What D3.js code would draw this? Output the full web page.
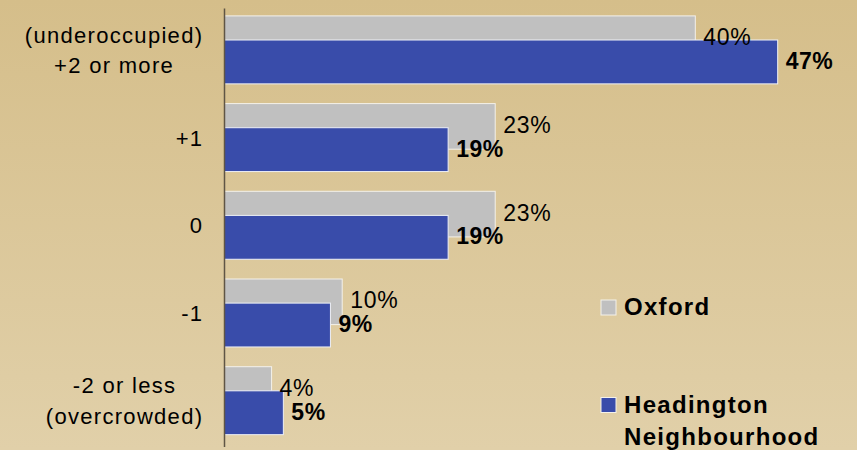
<!DOCTYPE html>
<html>
<head>
<meta charset="utf-8">
<script src="https://cdn.jsdelivr.net/npm/d3@7"></script>
<style>
  html, body { margin: 0; padding: 0; }
  body { width: 857px; height: 450px; overflow: hidden; }
  svg { display: block; font-family: "Liberation Sans", Arial, sans-serif; }
</style>
</head>
<body>
<svg id="chart" width="857" height="450"></svg>
<script>
// Occupancy rating categories (top to bottom)
const categories = ["(underoccupied)\n+2 or more", "+1", "0", "-1", "-2 or less\n(overcrowded)"];
// Share of households, percent
const oxford = [40, 23, 23, 10, 4];
const headington = [47, 19, 19, 9, 5];
const seriesNames = ["Oxford", "Headington\nNeighbourhood"];
const seriesColors = ["#c0c0c0", "#394caa"];

const W = 857, H = 450;
const svg = d3.select("#chart");

// Tan gradient backdrop
const defs = svg.append("defs");
const grad = defs.append("linearGradient").attr("id", "bg").attr("x1", 0).attr("y1", 0).attr("x2", 0).attr("y2", 1);
grad.append("stop").attr("offset", "0%").attr("stop-color", "#d5be8a");
grad.append("stop").attr("offset", "100%").attr("stop-color", "#e1d0a9");
svg.append("rect").attr("width", W).attr("height", H).attr("fill", "url(#bg)");

const x = d3.scaleLinear().domain([0, 50]).range([224.5, 813]);
const y = d3.scaleBand().domain(categories).range([8, 446.5]).padding(0);
const bw = y.bandwidth();

const rows = categories.map((c, i) => ({ cat: c, ox: oxford[i], hd: headington[i] }));

// Oxford bars (behind)
svg.append("g").selectAll("rect").data(rows).join("rect")
  .attr("x", x(0))
  .attr("y", d => y(d.cat) + bw * 0.09)
  .attr("width", d => x(d.ox) - x(0))
  .attr("height", bw * 0.52)
  .attr("fill", seriesColors[0])
  .attr("stroke", "#f4f1ea").attr("stroke-width", 1);

// Headington bars (overlapping in front)
svg.append("g").selectAll("rect").data(rows).join("rect")
  .attr("x", x(0))
  .attr("y", d => y(d.cat) + bw * 0.365)
  .attr("width", d => x(d.hd) - x(0))
  .attr("height", bw * 0.50)
  .attr("fill", seriesColors[1])
  .attr("stroke", "#eef0f6").attr("stroke-width", 1);

// Value labels
svg.append("g").selectAll("text").data(rows).join("text")
  .attr("x", d => x(d.ox) + 8)
  .attr("y", d => y(d.cat) + bw * 0.09 + bw * 0.26 + 6.5)
  .attr("font-size", 23).attr("letter-spacing", 0.7)
  .attr("fill", "#000")
  .text(d => d.ox + "%");

svg.append("g").selectAll("text").data(rows).join("text")
  .attr("x", d => x(d.hd) + 8)
  .attr("y", d => y(d.cat) + bw * 0.365 + bw * 0.25 + 7)
  .attr("font-size", 23).attr("font-weight", "bold").attr("letter-spacing", 0.5)
  .attr("fill", "#000")
  .text(d => d.hd + "%");

// Category axis
const pad = 22;
const axisG = svg.append("g")
  .attr("transform", `translate(${x(0) - 0.5},0)`)
  .call(d3.axisLeft(y).tickSize(0).tickSizeOuter(0).tickPadding(pad).tickFormat(() => ""));
axisG.select(".domain").attr("stroke", "#5f5545").attr("stroke-width", 1.5);

// Multi-line tick labels: block right-aligned, lines centred within it
const lineH = 30.5;
axisG.selectAll(".tick text").each(function(d) {
  const t = d3.select(this);
  const lines = d.split("\n");
  t.text(null)
    .attr("font-size", 22).attr("letter-spacing", 1.3)
    .attr("fill", "#000").attr("font-family", "'Liberation Sans', Arial, sans-serif")
    .attr("dy", null).attr("text-anchor", "middle");
  const spans = lines.map((ln, i) => t.append("tspan").text(ln)
    .attr("y", (i - (lines.length - 1) / 2) * lineH + 6));
  const maxW = d3.max(spans, s => s.node().getComputedTextLength());
  spans.forEach(s => s.attr("x", -pad - maxW / 2 + 1.3));
});

// Legend
const legend = svg.append("g");
const legendY = [300, 397.5];
seriesNames.forEach((name, i) => {
  legend.append("rect")
    .attr("x", 601).attr("y", legendY[i]).attr("width", 15).attr("height", 15)
    .attr("fill", seriesColors[i]).attr("stroke", "#f4f1ea").attr("stroke-width", 1);
  const t = legend.append("text")
    .attr("x", 624).attr("y", legendY[i] + 15)
    .attr("font-size", 24).attr("font-weight", "bold").attr("letter-spacing", 1.3)
    .attr("fill", "#000");
  name.split("\n").forEach((ln, j) => {
    t.append("tspan").attr("x", 624).attr("dy", j === 0 ? 0 : 32.3).text(ln);
  });
});
</script>
</body>
</html>
